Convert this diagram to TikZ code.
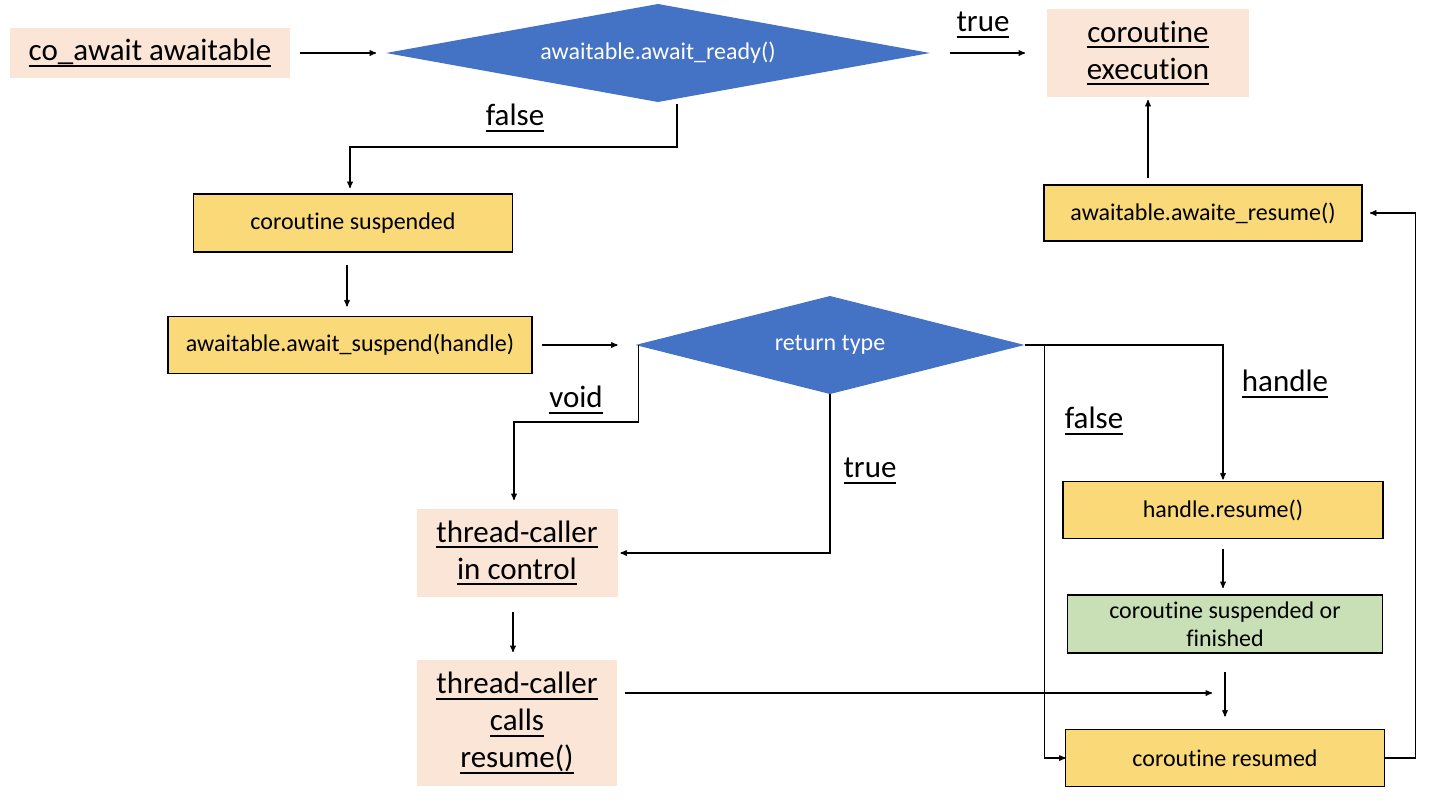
\documentclass[tikz,border=0pt]{standalone}
\usepackage{fontspec}
\setmainfont[Ligatures={NoCommon}]{Carlito}
\usepackage{tikz}
\usetikzlibrary{arrows}
\usetikzlibrary{positioning}
\usetikzlibrary{shapes.geometric}
\definecolor{boxyellow}{HTML}{F9D978}
\definecolor{boxbeige}{HTML}{FBE5D6}
\definecolor{boxgreen}{HTML}{C9E0B6}
\definecolor{decblue}{HTML}{4472C4}
\newcommand{\ulabel}[1]{\leavevmode\setbox0\hbox{#1}\rlap{\rule[-0.2em]{\wd0}{0.07em}}\box0}
\tikzset{
    statebox/.style={
           rectangle,
           draw=black, line width=1.6pt,
           fill=boxyellow,
           inner sep=0pt,
           outer sep=0pt,
           align=center,
           font=\fontsize{24}{28}\selectfont,
           },
    notebox/.style={
           rectangle,
           fill=boxbeige,
           inner sep=0pt,
           outer sep=0pt,
           align=center,
           font=\fontsize{31}{37}\selectfont,
           },
    decision/.style={
           diamond,
           fill=decblue,
           text=white,
           inner sep=0pt,
           outer sep=0pt,
           font=\fontsize{24}{28}\selectfont,
           },
    branch/.style={
           font=\fontsize{31}{37}\selectfont,
           inner sep=0pt,
           },
}

\begin{document}
\begin{tikzpicture}
[
x=1pt,y=-1pt,
->,>=stealth',
line width=1.3pt
]
 \useasboundingbox (0,0) rectangle (1440,801);

 % TOP ROW
 \node[notebox,
 minimum width=280pt,
 minimum height=50pt] (AWAIT) at (150,53)
 {\ulabel{co\_await awaitable}};

 \node[decision,
 right of=AWAIT,
 node distance=508pt,
 minimum width=544pt,
 minimum height=98pt,
 aspect=5.5] (READY)
 {awaitable.await\_ready()};

 \node[notebox,
 right of=READY,
 node distance=490pt,
 minimum width=202pt,
 minimum height=88pt] (EXEC)
 {\ulabel{coroutine}\\\ulabel{execution}};

 \node[statebox,
 below of=EXEC,
 node distance=160pt,
 xshift=55pt,
 minimum width=318pt,
 minimum height=56pt] (ARESUME)
 {awaitable.awaite\_resume()};

 % SUSPEND PATH
 \node[statebox,
 minimum width=319pt,
 minimum height=58pt] (SUSP) at (353,223)
 {coroutine suspended};

 \node[statebox,
 below of=SUSP,
 node distance=122pt,
 xshift=-3pt,
 minimum width=364pt,
 minimum height=57pt] (SUSPCALL)
 {awaitable.await\_suspend(handle)};

 \node[decision,
 right of=SUSPCALL,
 node distance=480pt,
 minimum width=389pt,
 minimum height=98pt,
 aspect=4] (RTYPE)
 {return type};

 % CALLER SIDE
 \node[notebox,
 minimum width=201pt,
 minimum height=88pt] (CALLER) at (517,553)
 {\ulabel{thread-caller}\\\ulabel{in control}};

 \node[notebox,
 below of=CALLER,
 node distance=170pt,
 minimum width=200pt,
 minimum height=126pt] (CALLS)
 {\ulabel{thread-caller}\\\ulabel{calls}\\\ulabel{resume()}};

 % HANDLE SIDE
 \node[statebox,
 minimum width=320pt,
 minimum height=57pt] (HRES) at (1223,510)
 {handle.resume()};

 \node[statebox,
 fill=boxgreen,
 below of=HRES,
 node distance=114pt,
 xshift=2pt,
 minimum width=315pt,
 minimum height=58pt] (SUSPFIN)
 {coroutine suspended or\\finished};

 \node[statebox,
 below of=SUSPFIN,
 node distance=134pt,
 minimum width=319pt,
 minimum height=57pt] (RESUMED)
 {coroutine resumed};

 % branch labels
 \node[branch] (LTRUEA) at (983,25) {\ulabel{true}};
 \node[branch] (LFALSEA) at (515,118) {\ulabel{false}};
 \node[branch] (LVOID) at (576,400) {\ulabel{void}};
 \node[branch] (LTRUEB) at (870,471) {\ulabel{true}};
 \node[branch] (LHANDLE) at (1285,384) {\ulabel{handle}};
 \node[branch] (LFALSEB) at (1094,421) {\ulabel{false}};

 % connectors
 \draw ([xshift=10pt]AWAIT.east) -- ([xshift=-10pt]READY.west);
 \draw ([xshift=20pt]READY.east) -- ([xshift=-22pt]EXEC.west);
 \draw ([xshift=19pt,yshift=-2pt]READY.south) -- ++(0,43) -| ([xshift=-3pt,yshift=6pt]SUSP.north);
 \draw ([xshift=-6pt,yshift=-13pt]SUSP.south) -- ([xshift=-3pt,yshift=10pt]SUSPCALL.north);
 \draw ([xshift=10pt]SUSPCALL.east) -- ([xshift=-18pt]RTYPE.west);
 \draw ([xshift=3pt]RTYPE.west) -- ++(0,77) -| ([xshift=-3pt,yshift=9pt]CALLER.north);
 \draw (RTYPE.south) |- ([xshift=3pt]CALLER.east);
 \draw (RTYPE.east) -| ([yshift=2pt]HRES.north);
 \draw (RTYPE.east) -- ++(20,0) |- (RESUMED.west);
 \draw ([yshift=-10pt]HRES.south) -- ([yshift=7pt]HRES.south |- SUSPFIN.north);
 \draw ([yshift=-19pt]SUSPFIN.south) -- ([yshift=13pt]SUSPFIN.south |- RESUMED.north);
 \draw ([xshift=-4pt,yshift=-15pt]CALLER.south) -- ([xshift=-4pt,yshift=8pt]CALLS.north);
 \coordinate (JOIN) at (1212,693);
 \draw ([xshift=8pt]CALLS.east |- JOIN) -- (JOIN);
 \draw (RESUMED.east) -- ++(31,0) |- ([xshift=8pt]ARESUME.east);
 \draw ([yshift=7pt]EXEC.south |- ARESUME.north) -- ([yshift=-3pt]EXEC.south);
\end{tikzpicture}
\end{document}
